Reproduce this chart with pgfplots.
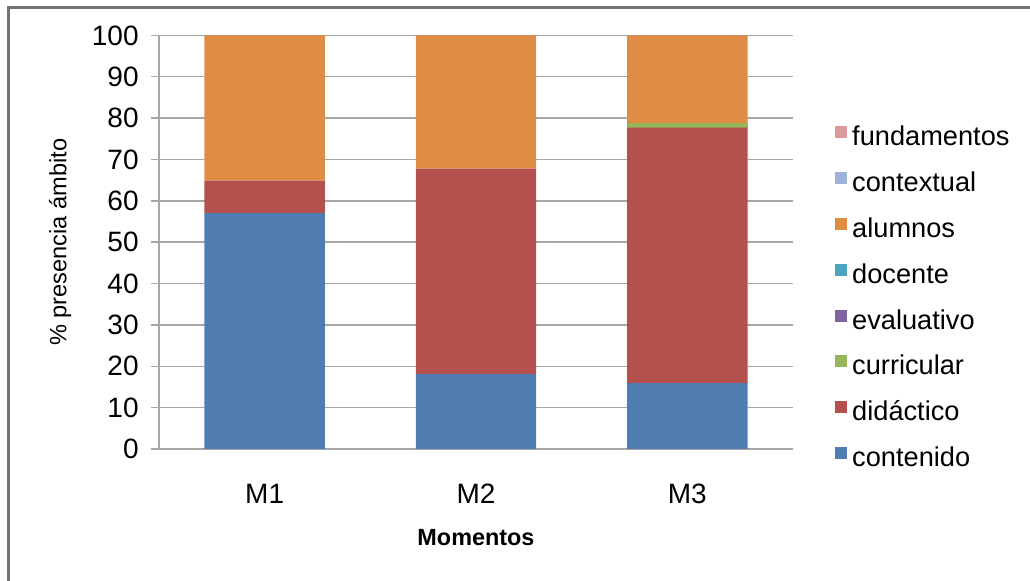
\documentclass[border=0pt]{standalone}
\usepackage{fontspec}
\setmainfont{Liberation Sans}
\usepackage{pgfplots}
\pgfplotsset{compat=1.18}

\definecolor{cContenido}{HTML}{4F7DB1}
\definecolor{cDidactico}{HTML}{B4504E}
\definecolor{cCurricular}{HTML}{96B65A}
\definecolor{cEvaluativo}{HTML}{7F64A0}
\definecolor{cDocente}{HTML}{4BA5BE}
\definecolor{cAlumnos}{HTML}{DF8C45}
\definecolor{cContextual}{HTML}{9DB3D9}
\definecolor{cFundamentos}{HTML}{DA9A99}
\definecolor{gridgray}{HTML}{A6A6A6}

\begin{document}
\begin{tikzpicture}
% page = 1030 x 581 px at 0.5pt per px
\useasboundingbox (0,0) rectangle (515pt,290.5pt);
\draw[color=black!55, line width=1.3pt] (4.3pt,-5pt) -- (4.3pt,286.8pt) -- (520pt,286.8pt);

\begin{axis}[
    at={(79.5pt,66pt)}, anchor=south west,
    scale only axis,
    width=317pt, height=206.8pt,
    ybar stacked,
    bar width=0.57,
    xmin=-0.5, xmax=2.5,
    ymin=0, ymax=100,
    xtick={0,1,2},
    xticklabels={M1,M2,M3},
    major x tick style={draw=none},
    ytick={0,10,...,100},
    tick align=outside,
    major tick length=4pt,
    y tick style={gridgray, line width=0.75pt},
    ymajorgrids,
    grid style={gridgray, line width=0.75pt},
    axis x line*=bottom,
    axis y line*=left,
    axis line style={gridgray, line width=0.75pt, -},
    tick label style={font=\fontsize{14}{16.8}\selectfont},
    /pgf/number format/assume math mode=true,
    xticklabel style={anchor=base, yshift=-23.5pt},
    yticklabel style={anchor=east, inner sep=0pt, xshift=-6pt},
    xlabel={\textbf{Momentos}},
    ylabel={\% presencia ámbito},
    every axis x label/.style={at={(axis description cs:0.5,-0.215)}, anchor=center,
        font=\fontsize{11.7}{14}\selectfont},
    every axis y label/.style={at={(axis description cs:-0.156,0.5)}, rotate=90, anchor=center,
        font=\fontsize{11.8}{14}\selectfont},
    reverse legend,
    legend image code/.code={\fill[#1] (0pt,0.5pt) rectangle (6pt,6.5pt);},
    legend style={
        at={(axis description cs:1.066,0.3615)}, anchor=west,
        draw=none, fill=none, inner sep=0pt,
        row sep=10.15pt,
        font=\fontsize{13.6}{16.3}\selectfont,
        nodes={inner xsep=2.5pt, inner ysep=0pt, text height=9.5pt, text depth=3pt, anchor=west},
    },
]
\addplot+[fill=cContenido, draw=none] coordinates {(0,57.0) (1,18.1) (2,15.9)};
\addlegendentry{contenido}
\addplot+[fill=cDidactico, draw=none] coordinates {(0,7.9) (1,49.7) (2,61.8)};
\addlegendentry{didáctico}
\addplot+[fill=cCurricular, draw=none] coordinates {(0,0) (1,0) (2,1.1)};
\addlegendentry{curricular}
\addplot+[fill=cEvaluativo, draw=none] coordinates {(0,0) (1,0) (2,0)};
\addlegendentry{evaluativo}
\addplot+[fill=cDocente, draw=none] coordinates {(0,0) (1,0) (2,0)};
\addlegendentry{docente}
\addplot+[fill=cAlumnos, draw=none] coordinates {(0,35.1) (1,32.2) (2,21.2)};
\addlegendentry{alumnos}
\addplot+[fill=cContextual, draw=none] coordinates {(0,0) (1,0) (2,0)};
\addlegendentry{contextual}
\addplot+[fill=cFundamentos, draw=none] coordinates {(0,0) (1,0) (2,0)};
\addlegendentry{fundamentos}
\end{axis}
\end{tikzpicture}
\end{document}
